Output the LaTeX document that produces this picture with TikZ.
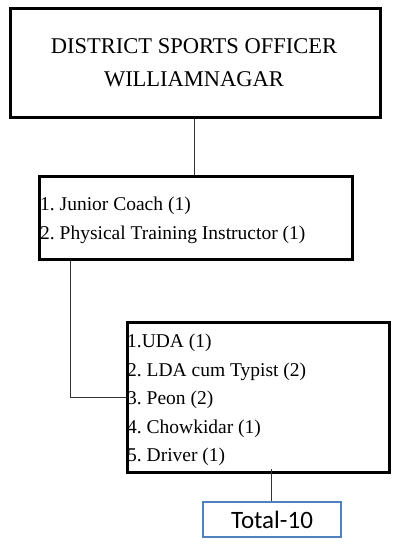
\documentclass[tikz,border=0pt]{standalone}
\usepackage{fontspec}
\setmainfont{Liberation Serif}
\newfontfamily\calfont{Carlito}
\frenchspacing
\definecolor{totblue}{HTML}{4F81BD}
\begin{document}
\begin{tikzpicture}[x=1bp,y=-1bp,
  boxstyle/.style={draw=black,line width=3bp},
  totstyle/.style={draw=totblue,line width=2.5bp},
  linkstyle/.style={draw=black!80,line width=1bp},
  itemtext/.style={anchor=base west,inner sep=0pt,font=\frenchspacing\fontsize{19.5bp}{23bp}\selectfont}]
\useasboundingbox (0,0) rectangle (413,554);
% boxes
\draw[boxstyle] (10,9) rectangle (380,118);
\node[inner sep=0pt,font=\fontsize{22.5bp}{33bp}\selectfont,align=center] (title) at (194,63) {DISTRICT SPORTS OFFICER\\WILLIAMNAGAR};
\draw[boxstyle] (39,177) rectangle (352,259);
\node[itemtext] (j1) at (40,211) {1. Junior Coach (1)};
\node[itemtext] (j2) at (40,239) {2. Physical Training Instructor (1)};
\draw[boxstyle] (127,322) rectangle (389,472);
\node[itemtext] (s1) at (127,347) {1.UDA (1)};
\node[itemtext] (s2) at (127,376) {2. LDA cum Typist (2)};
\node[itemtext] (s3) at (127,404) {3. Peon (2)};
\node[itemtext] (s4) at (127,433) {4. Chowkidar (1)};
\node[itemtext] (s5) at (127,461) {5. Driver (1)};
\draw[totstyle] (203,502) rectangle (341,537);
\node[inner sep=0pt,font=\calfont\fontsize{25bp}{30bp}\selectfont] (tot) at (272,520) {Total-10};
% named connection points
\coordinate (t1) at (194,119.5);
\coordinate (t2) at (194,175.5);
\coordinate (m1) at (70,260.5);
\coordinate (m2) at (70,397);
\coordinate (m3) at (125.5,397);
\coordinate (l1) at (271.5,469);
\coordinate (l2) at (271.5,501);
\draw[linkstyle] (t1) -- (t2);
\draw[linkstyle] (m1) -- (m2) -- (m3);
\draw[linkstyle] (l1) -- (l2);
\end{tikzpicture}
\end{document}
